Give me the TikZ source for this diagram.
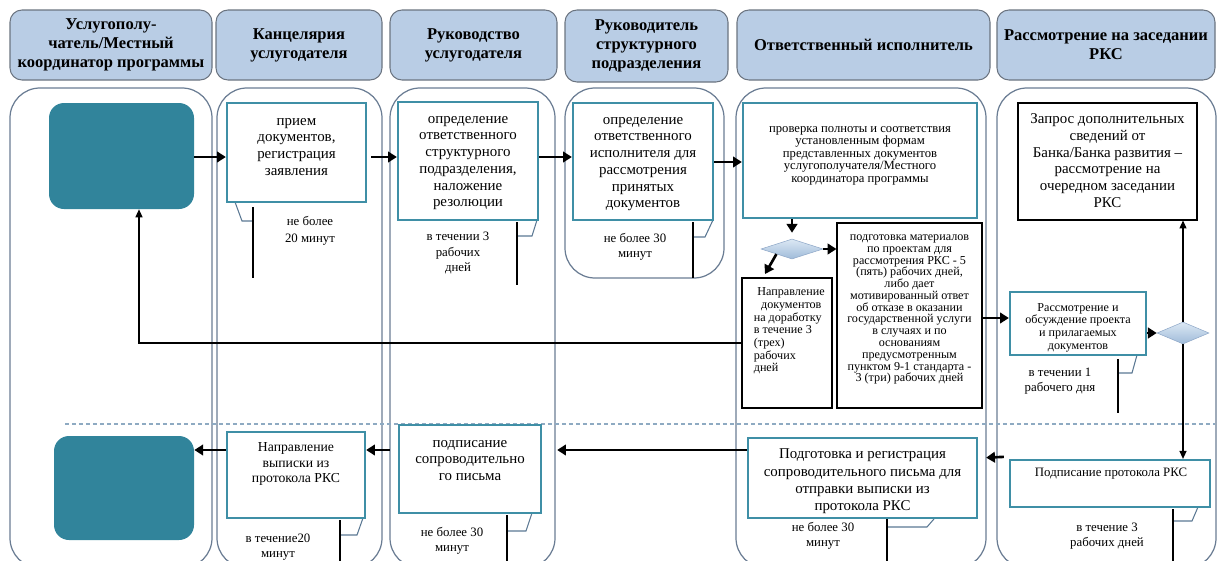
\documentclass[tikz,border=0pt]{standalone}
\usepackage{fontspec}
\setmainfont{Liberation Serif}
\usetikzlibrary{arrows.meta,shapes.geometric,fit,calc}
\definecolor{tealfill}{HTML}{31849B}
\definecolor{tealb}{HTML}{3F8FA6}
\definecolor{hdrfill}{HTML}{B9CDE5}
\definecolor{hdrdraw}{HTML}{6B7480}
\definecolor{lanec}{HTML}{6A7C93}
\definecolor{tailc}{HTML}{5B7893}
\definecolor{dashc}{HTML}{8EAAC2}
\definecolor{dtop}{HTML}{DCE8F4}
\definecolor{dbot}{HTML}{9FBBD9}
\definecolor{ddraw}{HTML}{8FA8C8}
\newcommand\myfH{\fontsize{9.4}{10.9}\selectfont\bfseries}
\newcommand\myfB{\fontsize{8.5}{9.5}\selectfont}
\newcommand\myfP{\fontsize{7.2}{7.1}\selectfont}
\newcommand\myfM{\fontsize{6.9}{6.7}\selectfont}
\newcommand\myfS{\fontsize{6.9}{7.2}\selectfont}
\newcommand\myfC{\fontsize{7.3}{8.6}\selectfont}
\newcommand\myfV{\fontsize{7.8}{9}\selectfont}
\begin{document}
\begin{tikzpicture}[x=0.02cm,y=-0.02cm,
  hdr/.style={rounded corners=0.24cm, fill=hdrfill, draw=hdrdraw, line width=0.6pt, inner sep=0},
  htxt/.style={inner sep=0, align=center, font=\myfH},
  lane/.style={rounded corners=0.6cm, draw=lanec, line width=0.7pt},
  tealbox/.style={rounded corners=0.3cm, fill=tealfill, inner sep=0},
  tbox/.style={draw=tealb, line width=1.3pt, fill=white, inner sep=0},
  bbox/.style={draw=black, line width=0.6pt, fill=white, inner sep=0},
  txt/.style={inner sep=0, align=center, anchor=north},
  ctxt/.style={inner sep=0, align=center, font=\myfC},
  dmd/.style={diamond, inner sep=0, top color=dtop, bottom color=dbot, draw=ddraw, line width=0.3pt},
  arr/.style={line width=1.5pt, -{Triangle[length=5pt,width=6pt]}},
  thinarr/.style={line width=0.6pt, -{Triangle[length=4.5pt,width=4pt]}},
  tail/.style={draw=tailc, line width=0.6pt},
  vline/.style={draw=black, line width=0.6pt}
]
\useasboundingbox (0,0) rectangle (1221,561);
\clip (0,0) rectangle (1221,561);

% headers
\node[hdr, fit={(10,10)(212,80)}] (h1) {};
\node[hdr, fit={(216,10)(382,80)}] (h2) {};
\node[hdr, fit={(390,10)(557,80)}] (h3) {};
\node[hdr, fit={(565,10)(728,82)}] (h4) {};
\node[hdr, fit={(737,10)(990,80)}] (h5) {};
\node[hdr, fit={(997,10)(1215,80)}] (h6) {};
\node[htxt] (h1t) at (h1.center) {Услугополу-\\чатель/Местный\\координатор программы};
\node[htxt] (h2t) at (h2.center) {Канцелярия\\услугодателя};
\node[htxt] (h3t) at (h3.center) {Руководство\\услугодателя};
\node[htxt] (h4t) at (h4.center) {Руководитель\\структурного\\подразделения};
\node[htxt] (h5t) at (h5.center) {Ответственный исполнитель};
\node[htxt] (h6t) at (h6.center) {Рассмотрение на заседании\\РКС};

% lanes
\draw[lane] (10,88) rectangle (212,568);
\draw[lane] (217,88) rectangle (382,568);
\draw[lane] (390,88) rectangle (555,568);
\draw[lane] (565,88) rectangle (724,278);
\draw[lane] (736,88) rectangle (986,568);
\draw[lane] (997,88) rectangle (1216,568);

% dashed separator
\draw[dashc, line width=0.8pt, dash pattern=on 0.08cm off 0.06cm] (65,424) -- (1215,424);

% callout tails (drawn first)
\draw[tail] (235,202) -- (242,221) -- (253,221);
\draw[vline] (253,207) -- (253,278);
\draw[tail] (537,220) -- (532,236) -- (518,236);
\draw[vline] (517,222) -- (517,285);
\draw[tail] (713,220) -- (705,237) -- (694,237);
\draw[vline] (693,222) -- (693,278);
\draw[tail] (1137,355) -- (1132,373) -- (1119,373);
\draw[vline] (1118,359) -- (1118,413);
\draw[tail] (363,518) -- (357,535) -- (341,535);
\draw[vline] (340,520) -- (340,561);
\draw[tail] (532,513) -- (526,531) -- (508,531);
\draw[vline] (507,515) -- (507,561);
\draw[tail] (940,512) -- (927,527) -- (888,527);
\draw[vline] (887,510) -- (887,561);
\draw[tail] (1198,507) -- (1192,521) -- (1174,521);
\draw[vline] (1173,509) -- (1173,561);

% top row
\node[tealbox, fit={(49,103)(194,209)}] (teal1) {};
\node[tbox, fit={(227,103)(366,202)}] (prijem) {};
\node[txt, font=\myfB] (prijemt) at ($(prijem.north)+(0,16)$) {прием\\документов,\\регистрация\\заявления};
\node[tbox, fit={(398,102)(538,220)}] (def1) {};
\node[txt, font=\myfB] (def1t) at ($(def1.north)+(0,15)$) {определение\\ответственного\\структурного\\подразделения,\\наложение\\резолюции};
\node[tbox, fit={(573,103)(713,220)}] (def2) {};
\node[txt, font=\myfB] (def2t) at ($(def2.north)+(0,15)$) {определение\\ответственного\\исполнителя для\\рассмотрения\\принятых\\документов};
\node[tbox, fit={(743,103)(977,218)}] (prov) {};
\node[txt, font=\myfP] (provt) at ($(prov.north)+(0,24)$) {проверка полноты и соответствия\\установленным формам\\представленных документов\\услугополучателя/Местного\\координатора программы};
\node[bbox, fit={(1018,103)(1197,220)}] (zapros) {};
\node[txt, font=\myfB] (zaprost) at ($(zapros.north)+(0,11)$) {Запрос дополнительных\\сведений от\\Банка/Банка развития –\\рассмотрение на\\очередном заседании\\РКС};

\node[dmd, minimum width=1.24cm, minimum height=0.4cm] (d1) at (792,249) {};
\node[bbox, fit={(742,278)(832,408)}] (nap) {};
\node[inner sep=0, align=left, anchor=north west, font=\myfS] (napt) at ($(nap.north west)+(12,10)$) {\hspace{0.3em}Направление\\\hspace{0.6em}документов\\на доработку\\в течение 3\\(трех)\\рабочих\\дней};
\node[bbox, fit={(837,223)(982,408)}] (podgm) {};
\node[txt, font=\myfM] (podgmt) at ($(podgm.north)+(0,12)$) {подготовка материалов\\по проектам для\\рассмотрения РКС - 5\\(пять) рабочих дней,\\либо дает\\мотивированный ответ\\об отказе в оказании\\государственной услуги\\в случаях и по\\основаниям\\предусмотренным\\пунктом 9-1 стандарта -\\3 (три) рабочих дней};
\node[tbox, fit={(1010,292)(1146,355)}] (rass) {};
\node[txt, font=\myfS] (rasst) at ($(rass.north)+(0,12)$) {Рассмотрение и\\обсуждение проекта\\и прилагаемых\\документов};
\node[dmd, minimum width=1.04cm, minimum height=0.44cm] (d2) at (1183,333) {};

% bottom row
\node[tealbox, fit={(54,436)(194,540)}] (teal2) {};
\node[tbox, fit={(227,432)(365,518)}] (napv) {};
\node[txt, font=\myfV] (napvt) at ($(napv.north)+(0,11)$) {Направление\\выписки из\\протокола РКС};
\node[tbox, fit={(399,425)(541,513)}] (sign) {};
\node[txt, font=\myfB] (signt) at ($(sign.north)+(0,16)$) {подписание\\сопроводительно\\го письма};
\node[tbox, fit={(748,438)(977,518)}] (podg) {};
\node[txt, font=\fontsize{8.5}{9.7}\selectfont] (podgt) at ($(podg.north)+(0,12)$) {Подготовка и регистрация\\сопроводительного письма для\\отправки выписки из\\протокола РКС};
\node[tbox, fit={(1010,460)(1210,507)}] (podp) {};
\node[inner sep=0, font=\myfC] (podpt) at (1111,474) {Подписание протокола РКС};

% callout texts
\node[ctxt, font=\fontsize{7.3}{10}\selectfont] (c1) at (310,231) {не более\\20 минут};
\node[ctxt] (c2) at (458,253) {в течении 3\\рабочих\\дней};
\node[ctxt] (c3) at (635,247) {не более 30\\минут};
\node[ctxt] (c4) at (1060,381) {в течении 1\\рабочего дня};
\node[ctxt] (c5) at (278,547) {в течение20\\минут};
\node[ctxt] (c6) at (452,541) {не более 30\\минут};
\node[ctxt] (c7) at (823,536) {не более 30\\минут};
\node[ctxt] (c8) at (1107,536) {в течение 3\\рабочих дней};

% connectors
\coordinate (yA) at (0,157);
\coordinate (yB) at (0,162);
\coordinate (yC) at (0,318);
\coordinate (yD) at (0,450);
\coordinate (fbx) at (139,0);
\coordinate (napin) at (765,274);
\draw[arr] (teal1.east |- yA) -- (prijem.west |- yA);
\draw[arr, shorten <=0.08cm] (prijem.east |- yA) -- (def1.west |- yA);
\draw[arr] (def1.east |- yA) -- (def2.west |- yA);
\draw[arr] (def2.east |- yB) -- (prov.west |- yB);
\draw[arr, shorten >=0.12cm] (d1.north |- prov.south) -- (d1.north);
\draw[arr] (d1.east) -- (podgm.west |- d1.east);
\draw[arr] ($(d1.west)!0.5!(d1.south)$) -- (napin);
\draw[thinarr] (nap.west) -| (fbx |- teal1.south);
\draw[arr] (podgm.east |- yC) -- (rass.west |- yC);
\draw[arr] (rass.east |- d2) -- (d2.west);
\draw[thinarr] (d2.north) -- (d2.north |- zapros.south);
\draw[thinarr] (d2.south) -- (d2.south |- podp.north);
\draw[arr, shorten >=0.16cm] ($(podp.north west)+(-5,-2)$) -- (podg.east |- 0,458);
\draw[arr, shorten >=0.3cm] (podg.west |- yD) -- (sign.east |- yD);
\draw[arr, shorten <=0.16cm] (sign.west |- yD) -- (napv.east |- yD);
\draw[arr] (napv.west |- yD) -- (teal2.east |- yD);
\end{tikzpicture}
\end{document}
